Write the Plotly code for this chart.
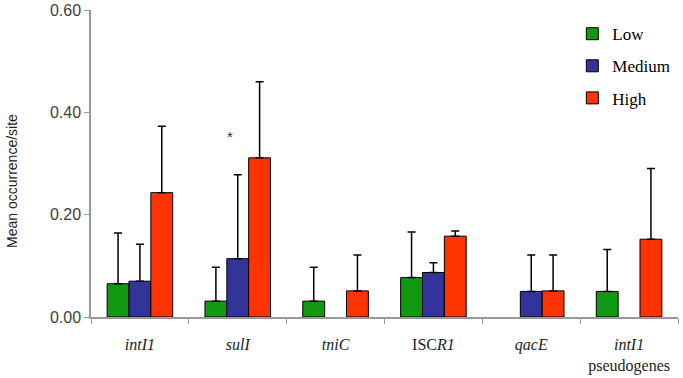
import plotly.graph_objects as go

categories = ["intI1", "sulI", "tniC", "ISCR1", "qacE", "intI1 pseudogenes"]
tick_labels = ["<i>intI1</i>", "<i>sulI</i>", "<i>tniC</i>", "ISC<i>R1</i>",
               "<i>qacE</i>", "<i>intI1</i><br>pseudogenes"]

low_mean = [0.065, 0.031, 0.031, 0.077, None, 0.050]
low_top = [0.164, 0.097, 0.097, 0.166, None, 0.132]
medium_mean = [0.070, 0.114, None, 0.087, 0.050, None]
medium_top = [0.142, 0.278, None, 0.106, 0.121, None]
high_mean = [0.243, 0.311, 0.051, 0.158, 0.051, 0.152]
high_top = [0.373, 0.460, 0.121, 0.168, 0.121, 0.290]

y_ticks = [0.0, 0.2, 0.4, 0.6]
y_tick_labels = ["0.00", "0.20", "0.40", "0.60"]

series = [
    ("Low", low_mean, low_top, "#119911"),
    ("Medium", medium_mean, medium_top, "#333399"),
    ("High", high_mean, high_top, "#FF3300"),
]

fig = go.Figure()
for name, mean, top, color in series:
    plus = [None if m is None else t - m for m, t in zip(mean, top)]
    minus = [None if m is None else 0 for m in mean]
    fig.add_trace(go.Bar(
        name=name, x=categories, y=mean,
        marker=dict(color=color, line=dict(color="black", width=1)),
        error_y=dict(type="data", symmetric=False, array=plus, arrayminus=minus,
                     color="black", thickness=1.5, width=4),
        legendgroup=name,
    ))

fig.add_annotation(x="sulI", y=0.352, text="*", showarrow=False, xshift=-8,
                   font=dict(family="Liberation Sans", size=15, color="#333333"))

fig.add_annotation(xref="paper", yref="paper", x=-0.1346, y=0.443,
                   text="Mean occurrence/site", textangle=-90, showarrow=False,
                   xanchor="center", yanchor="middle",
                   font=dict(family="Liberation Sans", size=14, color="#222222"))

fig.update_layout(
    width=683, height=378,
    margin=dict(l=91, r=5, t=10, b=61),
    paper_bgcolor="white", plot_bgcolor="white",
    barmode="group", bargap=0.33, bargroupgap=0,
    showlegend=True,
    legend=dict(x=0.82, y=0.98, xanchor="left", yanchor="top",
                font=dict(family="Liberation Serif", size=17, color="black"),
                tracegroupgap=7, itemwidth=30, bgcolor="rgba(0,0,0,0)"),
    xaxis=dict(type="category", tickmode="array", tickvals=categories, ticktext=tick_labels,
               tickson="boundaries", ticks="outside", ticklen=5, tickcolor="#999999",
               showline=True, linecolor="#999999", linewidth=1.5, automargin=False,
               tickfont=dict(family="Liberation Serif", size=16, color="#222222"),
               ticklabelstandoff=12, showgrid=False, zeroline=False),
    yaxis=dict(range=[0, 0.6], tickmode="array", tickvals=y_ticks, ticktext=y_tick_labels,
               ticks="outside", ticklen=5, tickcolor="#999999", automargin=False,
               showline=True, linecolor="#999999", linewidth=1.5,
               tickfont=dict(family="Liberation Sans", size=16, color="#404040"),
               showgrid=False, zeroline=False),
)

fig.write_html("out.html", config={"displayModeBar": False},
               post_script="document.body.style.margin='0';")
